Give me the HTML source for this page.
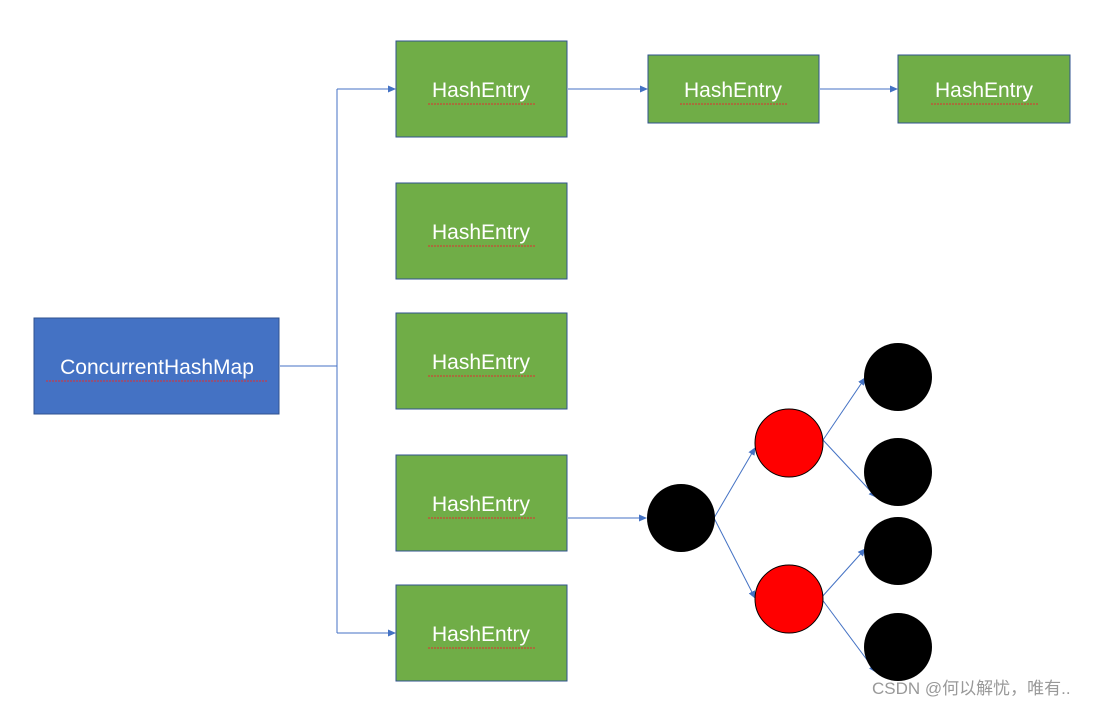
<!DOCTYPE html>
<html><head><meta charset="utf-8"><style>
html,body{margin:0;padding:0;background:#fff;width:1108px;height:706px;overflow:hidden}
svg text{font-family:"Liberation Sans",sans-serif}
</style></head><body>
<svg width="1108" height="706" xmlns="http://www.w3.org/2000/svg">
<defs><marker id="a" markerWidth="8" markerHeight="8" refX="7" refY="4" orient="auto" markerUnits="userSpaceOnUse"><path d="M0,0.5 L8,4 L0,7.5 Z" fill="#4472c4"/></marker></defs>
<g stroke="#4472c4" stroke-width="1" fill="none">
<path d="M280,366 H337 M337,89 V633"/>
<path d="M337,89 H395" marker-end="url(#a)"/>
<path d="M337,633 H395" marker-end="url(#a)"/>
<path d="M568,89 H647" marker-end="url(#a)"/>
<path d="M820,89 H897" marker-end="url(#a)"/>
<path d="M568,518 H646" marker-end="url(#a)"/>
<path d="M714,518 L755,448" marker-end="url(#a)"/>
<path d="M714,518 L755,598" marker-end="url(#a)"/>
<path d="M823,440 L865,378" marker-end="url(#a)"/>
<path d="M823,440 L876,497" marker-end="url(#a)"/>
<path d="M821,598 L865,549" marker-end="url(#a)"/>
<path d="M821,598 L876,672" marker-end="url(#a)"/>
</g>
<g fill="#70ad47" stroke="#2f528f" stroke-width="1">
<rect x="396" y="41" width="171" height="96"/>
<rect x="396" y="183" width="171" height="96"/>
<rect x="396" y="313" width="171" height="96"/>
<rect x="396" y="455" width="171" height="96"/>
<rect x="396" y="585" width="171" height="96"/>
<rect x="648" y="55" width="171" height="68"/>
<rect x="898" y="55" width="172" height="68"/>
</g>
<rect x="34" y="318" width="245" height="96" fill="#4472c4" stroke="#2f528f"/>
<g fill="#fff" font-size="21" text-anchor="middle">
<text x="481" y="97">HashEntry</text>
<text x="481" y="239">HashEntry</text>
<text x="481" y="369">HashEntry</text>
<text x="481" y="511">HashEntry</text>
<text x="481" y="641">HashEntry</text>
<text x="733" y="97">HashEntry</text>
<text x="984" y="97">HashEntry</text>
<text x="157" y="374">ConcurrentHashMap</text>
</g>
<g stroke="#e03030" stroke-width="1" stroke-dasharray="2,1" fill="none">
<path d="M428,104 H535 M428,246 H535 M428,376 H535 M428,518 H535 M428,648 H535 M680,104 H787 M931,104 H1038 M46,381 H268"/>
</g>
<circle cx="681" cy="518" r="34" fill="#000"/>
<circle cx="789" cy="443" r="34" fill="#f00" stroke="#000"/>
<circle cx="789" cy="599" r="34" fill="#f00" stroke="#000"/>
<circle cx="898" cy="377" r="34" fill="#000"/>
<circle cx="898" cy="472" r="34" fill="#000"/>
<circle cx="898" cy="551" r="34" fill="#000"/>
<circle cx="898" cy="647" r="34" fill="#000"/>
<text x="872" y="694" font-size="17" fill="#999" style='font-family:"Liberation Sans","Noto Sans CJK SC",sans-serif'>CSDN @何以解忧，唯有..</text>
</svg>
</body></html>
